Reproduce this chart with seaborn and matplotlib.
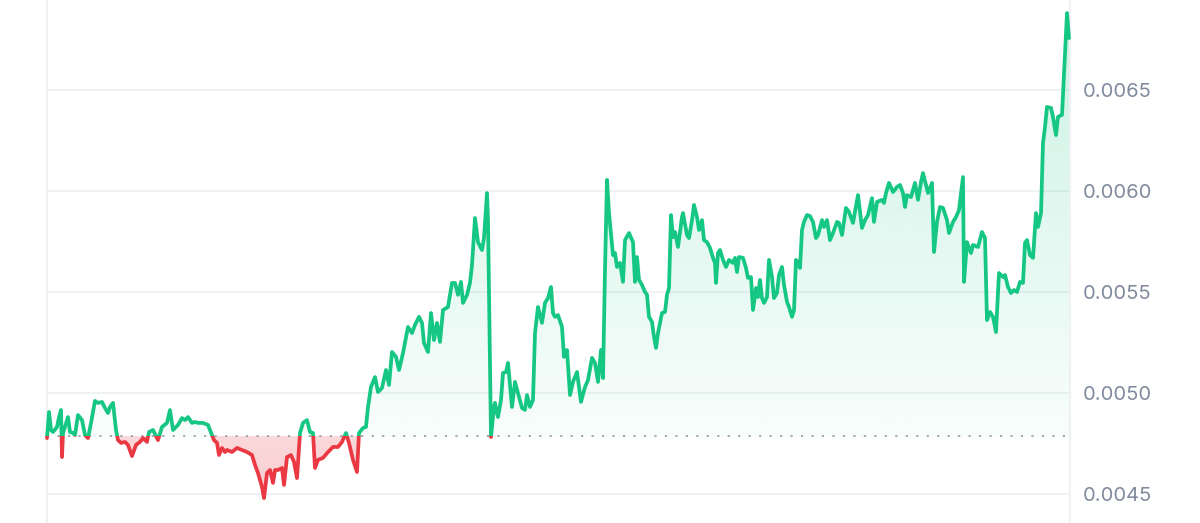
import numpy as np
import pandas as pd
import matplotlib
matplotlib.use("Agg")
import matplotlib.pyplot as plt
import seaborn as sns
from matplotlib.patches import Rectangle
from matplotlib.path import Path

# ---------------- data ----------------
sample_idx = [
    0, 2, 4, 6, 10, 12, 14, 15, 16, 21,
    23, 26, 28, 31, 35, 38, 41, 44, 48, 51,
    55, 58, 61, 63, 66, 69, 71, 74, 78, 81,
    85, 89, 93, 96, 100, 102, 106, 111, 115, 120,
    123, 126, 131, 135, 138, 141, 145, 148, 151, 156,
    161, 165, 167, 170, 172, 175, 178, 180, 185, 190,
    195, 200, 205, 208, 211, 215, 217, 220, 223, 226,
    228, 231, 235, 237, 240, 244, 247, 250, 253, 256,
    260, 263, 266, 268, 271, 276, 281, 286, 291, 295,
    299, 302, 306, 310, 312, 316, 319, 321, 324, 328,
    331, 335, 339, 342, 345, 349, 352, 356, 361, 365,
    368, 372, 375, 377, 381, 384, 387, 390, 393, 396,
    401, 405, 408, 411, 414, 416, 420, 423, 425, 428,
    431, 435, 437, 440, 441, 444, 447, 448, 450, 451,
    454, 456, 459, 461, 465, 468, 471, 475, 478, 480,
    483, 486, 488, 491, 495, 498, 501, 504, 506, 508,
    511, 515, 517, 520, 523, 526, 530, 534, 538, 541,
    545, 548, 551, 554, 556, 558, 560, 562, 566, 568,
    570, 573, 576, 578, 582, 586, 588, 590, 592, 595,
    598, 600, 602, 605, 607, 609, 611, 615, 618, 620,
    622, 624, 626, 628, 631, 635, 636, 640, 642, 645,
    647, 650, 652, 655, 657, 660, 663, 666, 668, 669,
    671, 673, 676, 679, 682, 686, 688, 690, 692, 696,
    699, 701, 704, 706, 709, 711, 713, 715, 717, 720,
    722, 725, 727, 730, 732, 735, 737, 740, 742, 745,
    747, 749, 751, 753, 755, 757, 760, 763, 766, 769,
    771, 775, 777, 780, 783, 786, 790, 792, 795, 799,
    802, 806, 808, 811, 815, 818, 821, 825, 827, 830,
    835, 837, 839, 842, 846, 850, 853, 856, 858, 860,
    864, 868, 871, 874, 876, 879, 881, 885, 887, 890,
    893, 896, 900, 902, 906, 909, 912, 916, 917, 920,
    924, 926, 931, 935, 938, 940, 943, 946, 949, 952,
    956, 958, 961, 964, 967, 970, 973, 976, 978, 980,
    983, 986, 989, 991, 994, 996, 998, 1000, 1004, 1006,
    1009, 1011, 1015, 1018, 1020, 1022,
]

price = [
    0.004777, 0.004906, 0.004817, 0.004807, 0.004832, 0.004881, 0.004916, 0.004683, 0.004802, 0.004881,
    0.004807, 0.004802, 0.004792, 0.004891, 0.004866, 0.004792, 0.004777, 0.004852, 0.004961, 0.004951,
    0.004956, 0.004926, 0.004901, 0.004931, 0.004951, 0.004817, 0.004767, 0.004753, 0.004758, 0.004743,
    0.004688, 0.004743, 0.004758, 0.004777, 0.004758, 0.004807, 0.004817, 0.004767, 0.004832, 0.004852,
    0.004916, 0.004817, 0.004842, 0.004876, 0.004866, 0.004881, 0.004852, 0.004857, 0.004852, 0.004852,
    0.004842, 0.004792, 0.004767, 0.004753, 0.004693, 0.004728, 0.004708, 0.004718, 0.004708, 0.004728,
    0.004718, 0.004708, 0.004693, 0.004644, 0.004604, 0.004535, 0.004480, 0.004604, 0.004619, 0.004555,
    0.004619, 0.004619, 0.004629, 0.004545, 0.004683, 0.004693, 0.004659, 0.004579, 0.004802, 0.004852,
    0.004866, 0.004807, 0.004802, 0.004629, 0.004669, 0.004679, 0.004708, 0.004733, 0.004733, 0.004758,
    0.004802, 0.004753, 0.004669, 0.004609, 0.004802, 0.004827, 0.004832, 0.004931, 0.005030, 0.005079,
    0.005005, 0.005025, 0.005114, 0.005040, 0.005203, 0.005179, 0.005114, 0.005198, 0.005327, 0.005297,
    0.005337, 0.005377, 0.005347, 0.005248, 0.005203, 0.005396, 0.005262, 0.005347, 0.005253, 0.005411,
    0.005426, 0.005545, 0.005545, 0.005486, 0.005550, 0.005446, 0.005486, 0.005545, 0.005634, 0.005866,
    0.005747, 0.005708, 0.005767, 0.005990, 0.005856, 0.004782, 0.004931, 0.004951, 0.004901, 0.004881,
    0.004966, 0.005099, 0.005104, 0.005149, 0.004931, 0.005055, 0.005000, 0.004926, 0.004916, 0.004990,
    0.004931, 0.004966, 0.005297, 0.005426, 0.005347, 0.005446, 0.005470, 0.005525, 0.005396, 0.005377,
    0.005386, 0.005327, 0.005179, 0.005213, 0.004990, 0.005055, 0.005104, 0.004956, 0.005030, 0.005064,
    0.005174, 0.005149, 0.005055, 0.005213, 0.005074, 0.005609, 0.006055, 0.005891, 0.005683, 0.005693,
    0.005624, 0.005644, 0.005550, 0.005757, 0.005792, 0.005747, 0.005550, 0.005673, 0.005560, 0.005535,
    0.005500, 0.005486, 0.005377, 0.005352, 0.005277, 0.005223, 0.005297, 0.005396, 0.005401, 0.005486,
    0.005520, 0.005881, 0.005772, 0.005797, 0.005723, 0.005871, 0.005891, 0.005782, 0.005767, 0.005856,
    0.005931, 0.005871, 0.005807, 0.005856, 0.005757, 0.005747, 0.005718, 0.005669, 0.005644, 0.005545,
    0.005693, 0.005708, 0.005659, 0.005624, 0.005659, 0.005644, 0.005669, 0.005599, 0.005673, 0.005669,
    0.005619, 0.005570, 0.005574, 0.005411, 0.005520, 0.005475, 0.005560, 0.005470, 0.005446, 0.005475,
    0.005659, 0.005574, 0.005470, 0.005495, 0.005584, 0.005624, 0.005535, 0.005451, 0.005426, 0.005377,
    0.005411, 0.005659, 0.005644, 0.005619, 0.005807, 0.005847, 0.005881, 0.005876, 0.005847, 0.005767,
    0.005782, 0.005856, 0.005822, 0.005856, 0.005757, 0.005792, 0.005847, 0.005842, 0.005782, 0.005916,
    0.005896, 0.005842, 0.005896, 0.005980, 0.005817, 0.005856, 0.005881, 0.005965, 0.005847, 0.005946,
    0.005956, 0.005941, 0.005990, 0.006040, 0.005995, 0.006020, 0.006030, 0.005990, 0.005921, 0.005980,
    0.005970, 0.006040, 0.005956, 0.006045, 0.006089, 0.006030, 0.005990, 0.006040, 0.005698, 0.005847,
    0.005921, 0.005916, 0.005856, 0.005792, 0.005847, 0.005871, 0.005906, 0.006069, 0.005550, 0.005747,
    0.005693, 0.005733, 0.005723, 0.005797, 0.005767, 0.005361, 0.005401, 0.005377, 0.005302, 0.005594,
    0.005574, 0.005584, 0.005525, 0.005495, 0.005510, 0.005500, 0.005550, 0.005545, 0.005743, 0.005757,
    0.005683, 0.005669, 0.005891, 0.005822, 0.005891, 0.006238, 0.006317, 0.006416, 0.006411, 0.006367,
    0.006277, 0.006367, 0.006377, 0.006683, 0.006881, 0.006757,
]

baseline = 0.004787
y_ticks = [0.0045, 0.0050, 0.0055, 0.0060, 0.0065]
y_tick_labels = ["0.0045", "0.0050", "0.0055", "0.0060", "0.0065"]

# ---------------- style ----------------
GREEN = "#16c784"
RED = "#ea3943"
GRID = "#eff2f5"
LABEL = "#808a9d"

sns.set_theme(style="white")
plt.rcParams["font.family"] = ["Inter", "DejaVu Sans"]

W, H = 1200, 523
fig = plt.figure(figsize=(W / 100, H / 100), dpi=100)
ax = fig.add_axes([47 / W, 0, (1070 - 47) / W, 1])

x_min, x_max = 0, 1023
y_min, y_max = 0.0043566, 0.0069455

df = pd.DataFrame({"t": sample_idx, "price": price})
t_arr = df["t"].to_numpy(dtype=float)
p_arr = df["price"].to_numpy(dtype=float)

# area between price and baseline used as clip for gradient fills
poly = ax.fill_between(t_arr, p_arr, baseline, facecolor="none", edgecolor="none")
paths = poly.get_paths()
clip_path = Path.make_compound_path(*paths) if len(paths) > 1 else paths[0]

top = p_arr.max()
n = 256
g = np.zeros((n, 1, 4))
g[:, 0, :3] = matplotlib.colors.to_rgb(GREEN)
g[:, 0, 3] = np.linspace(0.03, 0.22, n)
im_g = ax.imshow(g, extent=[x_min, x_max, baseline, top], origin="lower",
                 aspect="auto", zorder=1, interpolation="bilinear")
im_g.set_clip_path(clip_path, transform=ax.transData)

r = np.zeros((n, 1, 4))
r[:, 0, :3] = matplotlib.colors.to_rgb(RED)
r[:, 0, 3] = np.linspace(0.26, 0.2, n)
im_r = ax.imshow(r, extent=[x_min, x_max, y_min, baseline], origin="lower",
                 aspect="auto", zorder=1, interpolation="bilinear")
im_r.set_clip_path(clip_path, transform=ax.transData)

# dotted baseline
ax.hlines(baseline, t_arr[0], t_arr[-1], colors="#9aa1b0", linewidth=1.3,
          linestyles=(0, (1.2, 4.6)), zorder=2)

# price line, green above baseline, red below
sns.lineplot(data=df, x="t", y="price", color=GREEN, linewidth=2.7, ax=ax, zorder=4)
sns.lineplot(data=df, x="t", y="price", color=RED, linewidth=2.7, ax=ax, zorder=4)
line_g, line_r = ax.lines[-2], ax.lines[-1]
for ln in (line_g, line_r):
    ln.set_solid_joinstyle("round")
    ln.set_solid_capstyle("round")
rect_up = Rectangle((x_min - 10, baseline), x_max - x_min + 20, 1.0, transform=ax.transData)
rect_dn = Rectangle((x_min - 10, baseline - 1.0), x_max - x_min + 20, 1.0, transform=ax.transData)
line_g.set_clip_path(rect_up)
line_r.set_clip_path(rect_dn)

ax.set_xlim(x_min, x_max)
ax.set_ylim(y_min, y_max)
ax.set_xlabel("")
ax.set_ylabel("")
ax.set_xticks([])
ax.set_yticks(y_ticks)
ax.set_yticklabels(y_tick_labels)
ax.yaxis.tick_right()
ax.tick_params(axis="y", length=0, pad=9, labelsize=14.5, labelcolor=LABEL)
ax.grid(False)
ax.yaxis.grid(True, color=GRID, linewidth=1.4, zorder=0)
ax.set_axisbelow(True)

for side in ("top", "bottom"):
    ax.spines[side].set_visible(False)
for side in ("left", "right"):
    ax.spines[side].set_visible(True)
    ax.spines[side].set_color(GRID)
    ax.spines[side].set_linewidth(1.5)

fig.savefig("out.png", dpi=100, facecolor="white")
